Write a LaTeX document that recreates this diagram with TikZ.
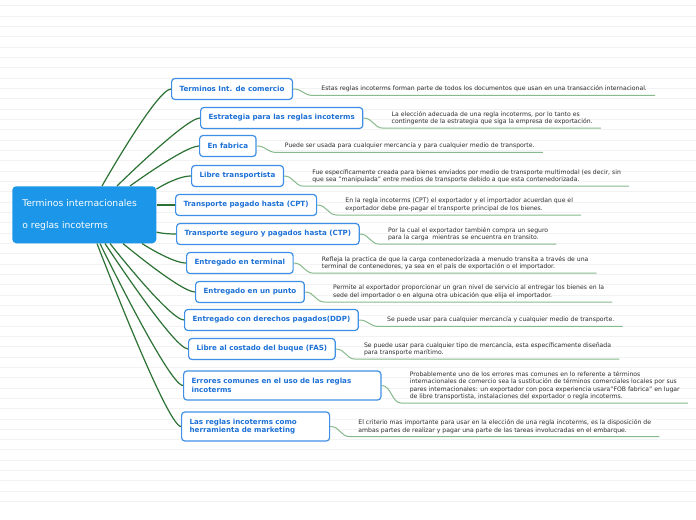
\documentclass[tikz,border=0pt]{standalone}
\usepackage{fontspec}
\setmainfont{DejaVu Sans}
\usetikzlibrary{positioning,calc}

\definecolor{rootblue}{RGB}{27,150,232}
\definecolor{topicline}{RGB}{62,143,230}
\definecolor{topictext}{RGB}{28,112,214}
\definecolor{notetext}{RGB}{45,45,45}
\definecolor{stemgreen}{RGB}{44,114,52}
\definecolor{leafgreen}{RGB}{135,186,140}
\definecolor{paperline}{RGB}{242,242,242}

\tikzset{
  root/.style={fill=rootblue, rounded corners=3pt, text=white, align=left,
    font=\fontsize{6.9}{16.5}\selectfont, text width=93pt, inner xsep=7.5pt,
    minimum height=42.75pt, anchor=north west},
  topic/.style={draw=topicline, fill=white, line width=0.9pt, rounded corners=2.5pt,
    text=topictext, font=\fontsize{5.35}{6.6}\selectfont\bfseries, align=left,
    inner xsep=6pt, minimum height=15.75pt, anchor=west},
  note/.style={text=notetext, font=\fontsize{4.6}{5.6}\selectfont, align=left,
    inner xsep=6pt, inner ysep=2.3pt, text depth=1pt},
  stem/.style={draw=stemgreen, line width=0.9pt},
  leaf/.style={draw=leafgreen, line width=0.75pt},
  paper/.style={draw=paperline, line width=0.6pt},
}

\begin{document}
\begin{tikzpicture}[x=0.75pt,y=0.75pt,yscale=-1,xscale=1]
\useasboundingbox (0,0) rectangle (696,520);
\fill[white] (0,0) rectangle (696,520);

% lined paper
\foreach \k in {0,...,48}
  \draw[paper] (0,{5.7+10.33*\k}) -- (696,{5.7+10.33*\k});

% Central node
\node[root] (root) at (12,186) {Terminos internacionales\\o reglas incoterms};

% Topics
\node[topic] (b1) at (171,89) {Terminos Int. de comercio};
\node[topic] (b2) at (200,118) {Estrategia para las reglas incoterms};
\node[topic] (b3) at (199,146) {En fabrica};
\node[topic] (b4) at (191,176) {Libre transportista};
\node[topic] (b5) at (175,205) {Transporte pagado hasta (CPT)};
\node[topic] (b6) at (176,234) {Transporte seguro y pagados hasta (CTP)};
\node[topic] (b7) at (186,263) {Entregado en terminal};
\node[topic] (b8) at (195,292) {Entregado en un punto};
\node[topic] (b9) at (184,320) {Entregado con derechos pagados(DDP)};
\node[topic] (b10) at (188,349) {Libre al costado del buque (FAS)};
\node[topic, text width=136pt, minimum height=21.75pt] (b11) at (183,385.5) {Errores comunes en el uso de las reglas\\incoterms};
\node[topic, text width=99pt, minimum height=21.75pt] (b12) at (181,426.5) {Las reglas incoterms como\\herramienta de marketing};

% Stems from the central node
\coordinate (r1) at ($(root.north west)+(90,0)$);
\coordinate (r2) at ($(root.north west)+(105,0)$);
\coordinate (r3) at ($(root.north west)+(118,0)$);
\coordinate (r4) at ($(root.north east)+(0,3)$);
\coordinate (r5) at ($(root.north east)+(0,19)$);
\coordinate (r6) at ($(root.north east)+(0,46)$);
\coordinate (r7) at ($(root.south west)+(130,0)$);
\coordinate (r8) at ($(root.south west)+(111,0)$);
\coordinate (r9) at ($(root.south west)+(98,0)$);
\coordinate (r10) at ($(root.south west)+(93,0)$);
\coordinate (r11) at ($(root.south west)+(88,0)$);
\coordinate (r12) at ($(root.south west)+(85,0)$);
\foreach \i in {1,...,12}
  \draw[stem] (r\i) .. controls +(0,0) and +(-14,0) .. (b\i.west);

% Notes
\node[note, right=20 of b1] (n1) {Estas reglas incoterms forman parte de todos los documentos que usan en una transacción internacional.};
\node[note, right=20 of b2] (n2) {La elección adecuada de una regla incoterms, por lo tanto es\\contingente de la estrategia que siga la empresa de exportación.};
\node[note, right=20 of b3] (n3) {Puede ser usada para cualquier mercancía y para cualquier medio de transporte.};
\node[note, right=20 of b4] (n4) {Fue específicamente creada para bienes enviados por medio de transporte multimodal (es decir, sin\\que sea "manipulada" entre medios de transporte debido a que esta contenedorizada.};
\node[note, right=20 of b5] (n5) {En la regla incoterms (CPT) el exportador y el importador acuerdan que el\\exportador debe pre-pagar el transporte principal de los bienes.};
\node[note, right=20 of b6] (n6) {Por la cual el exportador también compra un seguro\\para la carga\ \ mientras se encuentra en transito.};
\node[note, right=20 of b7] (n7) {Refleja la practica de que la carga contenedorizada a menudo transita a través de una\\terminal de contenedores, ya sea en el país de exportación o el importador.};
\node[note, right=20 of b8] (n8) {Permite al exportador proporcionar un gran nivel de servicio al entregar los bienes en la\\sede del importador o en alguna otra ubicación que elija el importador.};
\node[note, right=20 of b9] (n9) {Se puede usar para cualquier mercancía y cualquier medio de transporte.};
\node[note, right=20 of b10] (n10) {Se puede usar para cualquier tipo de mercancía, esta específicamente diseñada\\para transporte marítimo.};
\node[note, right=20 of b11] (n11) {Probablemente uno de los errores mas comunes en lo referente a términos\\internacionales de comercio sea la sustitución de términos comerciales locales por sus\\pares internacionales: un exportador con poca experiencia usara"FOB fabrica" en lugar\\de libre transportista, instalaciones del exportador o regla incoterms.};
\node[note, right=20 of b12] (n12) {El criterio mas importante para usar en la elección de una regla incoterms, es la disposición de\\ambas partes de realizar y pagar una parte de las tareas involucradas en el embarque.};

% Underlines
\foreach \i in {1,...,12}
  \draw[leaf] (b\i.east) .. controls +(10,0) and +(-10,0) .. (n\i.south west) -- (n\i.south east);

\end{tikzpicture}
\end{document}
